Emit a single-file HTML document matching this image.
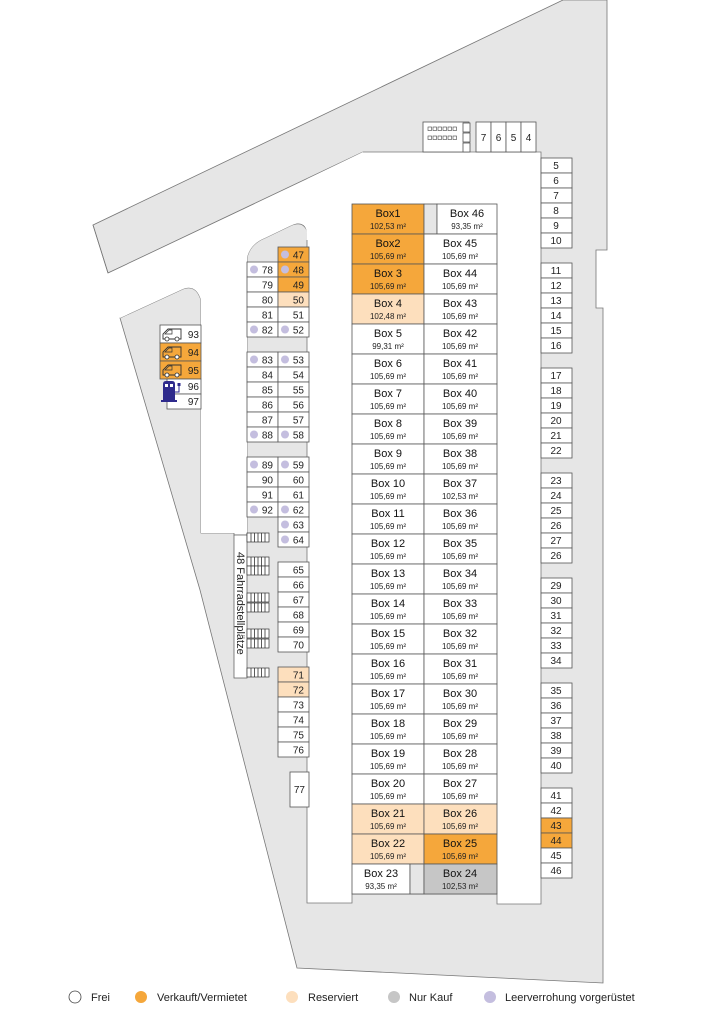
<!DOCTYPE html>
<html><head><meta charset="utf-8"><style>
html,body{margin:0;padding:0;background:#fff;}
svg{display:block;font-family:"Liberation Sans",Arial,sans-serif;}
.c{fill:#fff;stroke:#555;stroke-width:0.8}
.o{fill:#F5A73B;stroke:#555;stroke-width:0.8}
.r{fill:#FDDFBD;stroke:#555;stroke-width:0.8}
.g{fill:#C6C6C6;stroke:#555;stroke-width:0.8}
.n{font-size:10px;fill:#222;text-anchor:end}
.m{font-size:10px;fill:#222;text-anchor:middle}
.b{font-size:11px;fill:#111;text-anchor:middle}
.a{font-size:8px;fill:#222;text-anchor:middle}
.d{fill:#C4BEDF}
.lg{font-size:11px;fill:#222}
</style></head><body>
<svg width="724" height="1024" viewBox="0 0 724 1024" xmlns="http://www.w3.org/2000/svg">
<defs>
<g id="van"><path d="M2 13 L2 8 L7 3 L20 3 L20 13 Z" fill="none" stroke="#333" stroke-width="0.9"/><path d="M4 8 L8 4 L11 4 L11 8 Z" fill="none" stroke="#333" stroke-width="0.7"/><circle cx="6" cy="13" r="2" fill="#fff" stroke="#333" stroke-width="0.8"/><circle cx="16" cy="13" r="2" fill="#fff" stroke="#333" stroke-width="0.8"/></g>
<g id="rack"><rect x="0" y="0" width="22" height="9" fill="#fff" stroke="#333" stroke-width="0.7"/><path d="M4 0V9M7.5 0V9M11 0V9M14.5 0V9M18 0V9" stroke="#333" stroke-width="0.8"/></g>
</defs>
<!-- ground -->
<path d="M93 225 L563 0 L607 0 L607 250 L596 250 L596 308 L603 308 L603 983 L297 968 L200 590 L120 318 L183 289 Q196 284 201 300 L201 533 L234 533 L234 535 L247 535 L247 258 Q250 244 265 238 L290 226 Q307 218 309 240 L309 179 L108 273 Z" fill="#E6E6E6" stroke="#777" stroke-width="0.8"/>
<path d="M108 273 L307 179 L307 233 Q305 218 290 226 L265 238 Q250 244 247 258 L247 533 L201 533 L201 300 Q196 284 183 289 L120 318 Z" fill="#fff"/>
<path d="M108 273 L363 152" stroke="#777" stroke-width="0.8" fill="none"/>
<path d="M93 225 L108 273" stroke="#777" stroke-width="0.8"/>
<!-- building -->
<path d="M363 152 L541 152 L541 904 L497 904 L497 894 L352 894 L352 903 L307 903 L307 179 Z" fill="#fff"/>
<path d="M363 152 L541 152 L541 904 L497 904 L497 894 L352 894 L352 903 L307 903 L307 240" fill="none" stroke="#777" stroke-width="0.8"/>
<!-- top items -->
<rect x="423" y="122" width="46" height="30" class="c"/>
<rect x="463" y="123" width="7" height="9" class="c"/><rect x="463" y="133" width="7" height="9" class="c"/><rect x="463" y="143" width="7" height="9" class="c"/>
<g fill="none" stroke="#444" stroke-width="0.6">
<rect x="428" y="127" width="3.5" height="3.5"/><rect x="433" y="127" width="3.5" height="3.5"/><rect x="438" y="127" width="3.5" height="3.5"/><rect x="443" y="127" width="3.5" height="3.5"/><rect x="448" y="127" width="3.5" height="3.5"/><rect x="453" y="127" width="3.5" height="3.5"/>
<rect x="428" y="136" width="3.5" height="3.5"/><rect x="433" y="136" width="3.5" height="3.5"/><rect x="438" y="136" width="3.5" height="3.5"/><rect x="443" y="136" width="3.5" height="3.5"/><rect x="448" y="136" width="3.5" height="3.5"/><rect x="453" y="136" width="3.5" height="3.5"/>
</g>
<rect x="476" y="122" width="15" height="30" class="c"/><rect x="491" y="122" width="15" height="30" class="c"/><rect x="506" y="122" width="15" height="30" class="c"/><rect x="521" y="122" width="15" height="30" class="c"/>
<text x="483.5" y="141" class="m">7</text><text x="498.5" y="141" class="m">6</text><text x="513.5" y="141" class="m">5</text><text x="528.5" y="141" class="m">4</text>
<!-- right column -->
<g>
<rect x="541" y="158" width="31" height="15" class="c"/><rect x="541" y="173" width="31" height="15" class="c"/><rect x="541" y="188" width="31" height="15" class="c"/><rect x="541" y="203" width="31" height="15" class="c"/><rect x="541" y="218" width="31" height="15" class="c"/><rect x="541" y="233" width="31" height="15" class="c"/>
<rect x="541" y="263" width="31" height="15" class="c"/><rect x="541" y="278" width="31" height="15" class="c"/><rect x="541" y="293" width="31" height="15" class="c"/><rect x="541" y="308" width="31" height="15" class="c"/><rect x="541" y="323" width="31" height="15" class="c"/><rect x="541" y="338" width="31" height="15" class="c"/>
<rect x="541" y="368" width="31" height="15" class="c"/><rect x="541" y="383" width="31" height="15" class="c"/><rect x="541" y="398" width="31" height="15" class="c"/><rect x="541" y="413" width="31" height="15" class="c"/><rect x="541" y="428" width="31" height="15" class="c"/><rect x="541" y="443" width="31" height="15" class="c"/>
<rect x="541" y="473" width="31" height="15" class="c"/><rect x="541" y="488" width="31" height="15" class="c"/><rect x="541" y="503" width="31" height="15" class="c"/><rect x="541" y="518" width="31" height="15" class="c"/><rect x="541" y="533" width="31" height="15" class="c"/><rect x="541" y="548" width="31" height="15" class="c"/>
<rect x="541" y="578" width="31" height="15" class="c"/><rect x="541" y="593" width="31" height="15" class="c"/><rect x="541" y="608" width="31" height="15" class="c"/><rect x="541" y="623" width="31" height="15" class="c"/><rect x="541" y="638" width="31" height="15" class="c"/><rect x="541" y="653" width="31" height="15" class="c"/>
<rect x="541" y="683" width="31" height="15" class="c"/><rect x="541" y="698" width="31" height="15" class="c"/><rect x="541" y="713" width="31" height="15" class="c"/><rect x="541" y="728" width="31" height="15" class="c"/><rect x="541" y="743" width="31" height="15" class="c"/><rect x="541" y="758" width="31" height="15" class="c"/>
<rect x="541" y="788" width="31" height="15" class="c"/><rect x="541" y="803" width="31" height="15" class="c"/><rect x="541" y="818" width="31" height="15" class="o"/><rect x="541" y="833" width="31" height="15" class="o"/><rect x="541" y="848" width="31" height="15" class="c"/><rect x="541" y="863" width="31" height="15" class="c"/>
</g>
<g class="m">
<text x="556" y="169" class="m">5</text><text x="556" y="184" class="m">6</text><text x="556" y="199" class="m">7</text><text x="556" y="214" class="m">8</text><text x="556" y="229" class="m">9</text><text x="556" y="244" class="m">10</text>
<text x="556" y="274" class="m">11</text><text x="556" y="289" class="m">12</text><text x="556" y="304" class="m">13</text><text x="556" y="319" class="m">14</text><text x="556" y="334" class="m">15</text><text x="556" y="349" class="m">16</text>
<text x="556" y="379" class="m">17</text><text x="556" y="394" class="m">18</text><text x="556" y="409" class="m">19</text><text x="556" y="424" class="m">20</text><text x="556" y="439" class="m">21</text><text x="556" y="454" class="m">22</text>
<text x="556" y="484" class="m">23</text><text x="556" y="499" class="m">24</text><text x="556" y="514" class="m">25</text><text x="556" y="529" class="m">26</text><text x="556" y="544" class="m">27</text><text x="556" y="559" class="m">26</text>
<text x="556" y="589" class="m">29</text><text x="556" y="604" class="m">30</text><text x="556" y="619" class="m">31</text><text x="556" y="634" class="m">32</text><text x="556" y="649" class="m">33</text><text x="556" y="664" class="m">34</text>
<text x="556" y="694" class="m">35</text><text x="556" y="709" class="m">36</text><text x="556" y="724" class="m">37</text><text x="556" y="739" class="m">38</text><text x="556" y="754" class="m">39</text><text x="556" y="769" class="m">40</text>
<text x="556" y="799" class="m">41</text><text x="556" y="814" class="m">42</text><text x="556" y="829" class="m">43</text><text x="556" y="844" class="m">44</text><text x="556" y="859" class="m">45</text><text x="556" y="874" class="m">46</text>
</g>
<!-- central boxes -->
<g>
<rect x="352" y="204" width="72" height="30" class="o"/><rect x="424" y="204" width="13" height="30" fill="#E6E6E6" stroke="#555" stroke-width="0.8"/><rect x="437" y="204" width="60" height="30" class="c"/>
<rect x="352" y="234" width="72" height="30" class="o"/><rect x="424" y="234" width="73" height="30" class="c"/>
<rect x="352" y="264" width="72" height="30" class="o"/><rect x="424" y="264" width="73" height="30" class="c"/>
<rect x="352" y="294" width="72" height="30" class="r"/><rect x="424" y="294" width="73" height="30" class="c"/>
<rect x="352" y="324" width="72" height="30" class="c"/><rect x="424" y="324" width="73" height="30" class="c"/>
<rect x="352" y="354" width="72" height="30" class="c"/><rect x="424" y="354" width="73" height="30" class="c"/>
<rect x="352" y="384" width="72" height="30" class="c"/><rect x="424" y="384" width="73" height="30" class="c"/>
<rect x="352" y="414" width="72" height="30" class="c"/><rect x="424" y="414" width="73" height="30" class="c"/>
<rect x="352" y="444" width="72" height="30" class="c"/><rect x="424" y="444" width="73" height="30" class="c"/>
<rect x="352" y="474" width="72" height="30" class="c"/><rect x="424" y="474" width="73" height="30" class="c"/>
<rect x="352" y="504" width="72" height="30" class="c"/><rect x="424" y="504" width="73" height="30" class="c"/>
<rect x="352" y="534" width="72" height="30" class="c"/><rect x="424" y="534" width="73" height="30" class="c"/>
<rect x="352" y="564" width="72" height="30" class="c"/><rect x="424" y="564" width="73" height="30" class="c"/>
<rect x="352" y="594" width="72" height="30" class="c"/><rect x="424" y="594" width="73" height="30" class="c"/>
<rect x="352" y="624" width="72" height="30" class="c"/><rect x="424" y="624" width="73" height="30" class="c"/>
<rect x="352" y="654" width="72" height="30" class="c"/><rect x="424" y="654" width="73" height="30" class="c"/>
<rect x="352" y="684" width="72" height="30" class="c"/><rect x="424" y="684" width="73" height="30" class="c"/>
<rect x="352" y="714" width="72" height="30" class="c"/><rect x="424" y="714" width="73" height="30" class="c"/>
<rect x="352" y="744" width="72" height="30" class="c"/><rect x="424" y="744" width="73" height="30" class="c"/>
<rect x="352" y="774" width="72" height="30" class="c"/><rect x="424" y="774" width="73" height="30" class="c"/>
<rect x="352" y="804" width="72" height="30" class="r"/><rect x="424" y="804" width="73" height="30" class="r"/>
<rect x="352" y="834" width="72" height="30" class="r"/><rect x="424" y="834" width="73" height="30" class="o"/>
<rect x="352" y="864" width="58" height="30" class="c"/><rect x="410" y="864" width="14" height="30" fill="#E6E6E6" stroke="#555" stroke-width="0.8"/><rect x="424" y="864" width="73" height="30" class="g"/>
</g>
<g>
<text x="388" y="217" class="b">Box1</text><text x="388" y="229" class="a">102,53 m²</text><text x="467" y="217" class="b">Box 46</text><text x="467" y="229" class="a">93,35 m²</text>
<text x="388" y="247" class="b">Box2</text><text x="388" y="259" class="a">105,69 m²</text><text x="460" y="247" class="b">Box 45</text><text x="460" y="259" class="a">105,69 m²</text>
<text x="388" y="277" class="b">Box 3</text><text x="388" y="289" class="a">105,69 m²</text><text x="460" y="277" class="b">Box 44</text><text x="460" y="289" class="a">105,69 m²</text>
<text x="388" y="307" class="b">Box 4</text><text x="388" y="319" class="a">102,48 m²</text><text x="460" y="307" class="b">Box 43</text><text x="460" y="319" class="a">105,69 m²</text>
<text x="388" y="337" class="b">Box 5</text><text x="388" y="349" class="a">99,31 m²</text><text x="460" y="337" class="b">Box 42</text><text x="460" y="349" class="a">105,69 m²</text>
<text x="388" y="367" class="b">Box 6</text><text x="388" y="379" class="a">105,69 m²</text><text x="460" y="367" class="b">Box 41</text><text x="460" y="379" class="a">105,69 m²</text>
<text x="388" y="397" class="b">Box 7</text><text x="388" y="409" class="a">105,69 m²</text><text x="460" y="397" class="b">Box 40</text><text x="460" y="409" class="a">105,69 m²</text>
<text x="388" y="427" class="b">Box 8</text><text x="388" y="439" class="a">105,69 m²</text><text x="460" y="427" class="b">Box 39</text><text x="460" y="439" class="a">105,69 m²</text>
<text x="388" y="457" class="b">Box 9</text><text x="388" y="469" class="a">105,69 m²</text><text x="460" y="457" class="b">Box 38</text><text x="460" y="469" class="a">105,69 m²</text>
<text x="388" y="487" class="b">Box 10</text><text x="388" y="499" class="a">105,69 m²</text><text x="460" y="487" class="b">Box 37</text><text x="460" y="499" class="a">102,53 m²</text>
<text x="388" y="517" class="b">Box 11</text><text x="388" y="529" class="a">105,69 m²</text><text x="460" y="517" class="b">Box 36</text><text x="460" y="529" class="a">105,69 m²</text>
<text x="388" y="547" class="b">Box 12</text><text x="388" y="559" class="a">105,69 m²</text><text x="460" y="547" class="b">Box 35</text><text x="460" y="559" class="a">105,69 m²</text>
<text x="388" y="577" class="b">Box 13</text><text x="388" y="589" class="a">105,69 m²</text><text x="460" y="577" class="b">Box 34</text><text x="460" y="589" class="a">105,69 m²</text>
<text x="388" y="607" class="b">Box 14</text><text x="388" y="619" class="a">105,69 m²</text><text x="460" y="607" class="b">Box 33</text><text x="460" y="619" class="a">105,69 m²</text>
<text x="388" y="637" class="b">Box 15</text><text x="388" y="649" class="a">105,69 m²</text><text x="460" y="637" class="b">Box 32</text><text x="460" y="649" class="a">105,69 m²</text>
<text x="388" y="667" class="b">Box 16</text><text x="388" y="679" class="a">105,69 m²</text><text x="460" y="667" class="b">Box 31</text><text x="460" y="679" class="a">105,69 m²</text>
<text x="388" y="697" class="b">Box 17</text><text x="388" y="709" class="a">105,69 m²</text><text x="460" y="697" class="b">Box 30</text><text x="460" y="709" class="a">105,69 m²</text>
<text x="388" y="727" class="b">Box 18</text><text x="388" y="739" class="a">105,69 m²</text><text x="460" y="727" class="b">Box 29</text><text x="460" y="739" class="a">105,69 m²</text>
<text x="388" y="757" class="b">Box 19</text><text x="388" y="769" class="a">105,69 m²</text><text x="460" y="757" class="b">Box 28</text><text x="460" y="769" class="a">105,69 m²</text>
<text x="388" y="787" class="b">Box 20</text><text x="388" y="799" class="a">105,69 m²</text><text x="460" y="787" class="b">Box 27</text><text x="460" y="799" class="a">105,69 m²</text>
<text x="388" y="817" class="b">Box 21</text><text x="388" y="829" class="a">105,69 m²</text><text x="460" y="817" class="b">Box 26</text><text x="460" y="829" class="a">105,69 m²</text>
<text x="388" y="847" class="b">Box 22</text><text x="388" y="859" class="a">105,69 m²</text><text x="460" y="847" class="b">Box 25</text><text x="460" y="859" class="a">105,69 m²</text>
<text x="381" y="877" class="b">Box 23</text><text x="381" y="889" class="a">93,35 m²</text><text x="460" y="877" class="b">Box 24</text><text x="460" y="889" class="a">102,53 m²</text>
</g>
<!-- parking column block 2 -->
<g>
<rect x="278" y="247" width="31" height="15" class="o"/>
<rect x="247" y="262" width="31" height="15" class="c"/><rect x="278" y="262" width="31" height="15" class="o"/>
<rect x="247" y="277" width="31" height="15" class="c"/><rect x="278" y="277" width="31" height="15" class="o"/>
<rect x="247" y="292" width="31" height="15" class="c"/><rect x="278" y="292" width="31" height="15" class="r"/>
<rect x="247" y="307" width="31" height="15" class="c"/><rect x="278" y="307" width="31" height="15" class="c"/>
<rect x="247" y="322" width="31" height="15" class="c"/><rect x="278" y="322" width="31" height="15" class="c"/>
<rect x="247" y="352" width="31" height="15" class="c"/><rect x="278" y="352" width="31" height="15" class="c"/>
<rect x="247" y="367" width="31" height="15" class="c"/><rect x="278" y="367" width="31" height="15" class="c"/>
<rect x="247" y="382" width="31" height="15" class="c"/><rect x="278" y="382" width="31" height="15" class="c"/>
<rect x="247" y="397" width="31" height="15" class="c"/><rect x="278" y="397" width="31" height="15" class="c"/>
<rect x="247" y="412" width="31" height="15" class="c"/><rect x="278" y="412" width="31" height="15" class="c"/>
<rect x="247" y="427" width="31" height="15" class="c"/><rect x="278" y="427" width="31" height="15" class="c"/>
<rect x="247" y="457" width="31" height="15" class="c"/><rect x="278" y="457" width="31" height="15" class="c"/>
<rect x="247" y="472" width="31" height="15" class="c"/><rect x="278" y="472" width="31" height="15" class="c"/>
<rect x="247" y="487" width="31" height="15" class="c"/><rect x="278" y="487" width="31" height="15" class="c"/>
<rect x="247" y="502" width="31" height="15" class="c"/><rect x="278" y="502" width="31" height="15" class="c"/>
<rect x="278" y="517" width="31" height="15" class="c"/><rect x="278" y="532" width="31" height="15" class="c"/>
<rect x="278" y="562" width="31" height="15" class="c"/><rect x="278" y="577" width="31" height="15" class="c"/><rect x="278" y="592" width="31" height="15" class="c"/><rect x="278" y="607" width="31" height="15" class="c"/><rect x="278" y="622" width="31" height="15" class="c"/><rect x="278" y="637" width="31" height="15" class="c"/>
<rect x="278" y="667" width="31" height="15" class="r"/><rect x="278" y="682" width="31" height="15" class="r"/><rect x="278" y="697" width="31" height="15" class="c"/><rect x="278" y="712" width="31" height="15" class="c"/><rect x="278" y="727" width="31" height="15" class="c"/><rect x="278" y="742" width="31" height="15" class="c"/>
<rect x="290" y="772" width="19" height="35" class="c"/>
</g>
<g>
<circle cx="285" cy="254.5" r="4" class="d"/><circle cx="254" cy="269.5" r="4" class="d"/><circle cx="285" cy="269.5" r="4" class="d"/>
<circle cx="254" cy="329.5" r="4" class="d"/><circle cx="285" cy="329.5" r="4" class="d"/>
<circle cx="254" cy="359.5" r="4" class="d"/><circle cx="285" cy="359.5" r="4" class="d"/>
<circle cx="254" cy="434.5" r="4" class="d"/><circle cx="285" cy="434.5" r="4" class="d"/>
<circle cx="254" cy="464.5" r="4" class="d"/><circle cx="285" cy="464.5" r="4" class="d"/>
<circle cx="254" cy="509.5" r="4" class="d"/><circle cx="285" cy="509.5" r="4" class="d"/>
<circle cx="285" cy="524.5" r="4" class="d"/><circle cx="285" cy="539.5" r="4" class="d"/>
</g>
<g class="n">
<text x="304" y="258.5" class="n">47</text>
<text x="273" y="273.5" class="n">78</text><text x="304" y="273.5" class="n">48</text>
<text x="273" y="288.5" class="n">79</text><text x="304" y="288.5" class="n">49</text>
<text x="273" y="303.5" class="n">80</text><text x="304" y="303.5" class="n">50</text>
<text x="273" y="318.5" class="n">81</text><text x="304" y="318.5" class="n">51</text>
<text x="273" y="333.5" class="n">82</text><text x="304" y="333.5" class="n">52</text>
<text x="273" y="363.5" class="n">83</text><text x="304" y="363.5" class="n">53</text>
<text x="273" y="378.5" class="n">84</text><text x="304" y="378.5" class="n">54</text>
<text x="273" y="393.5" class="n">85</text><text x="304" y="393.5" class="n">55</text>
<text x="273" y="408.5" class="n">86</text><text x="304" y="408.5" class="n">56</text>
<text x="273" y="423.5" class="n">87</text><text x="304" y="423.5" class="n">57</text>
<text x="273" y="438.5" class="n">88</text><text x="304" y="438.5" class="n">58</text>
<text x="273" y="468.5" class="n">89</text><text x="304" y="468.5" class="n">59</text>
<text x="273" y="483.5" class="n">90</text><text x="304" y="483.5" class="n">60</text>
<text x="273" y="498.5" class="n">91</text><text x="304" y="498.5" class="n">61</text>
<text x="273" y="513.5" class="n">92</text><text x="304" y="513.5" class="n">62</text>
<text x="304" y="528.5" class="n">63</text><text x="304" y="543.5" class="n">64</text>
<text x="304" y="573.5" class="n">65</text><text x="304" y="588.5" class="n">66</text><text x="304" y="603.5" class="n">67</text><text x="304" y="618.5" class="n">68</text><text x="304" y="633.5" class="n">69</text><text x="304" y="648.5" class="n">70</text>
<text x="304" y="678.5" class="n">71</text><text x="304" y="693.5" class="n">72</text><text x="304" y="708.5" class="n">73</text><text x="304" y="723.5" class="n">74</text><text x="304" y="738.5" class="n">75</text><text x="304" y="753.5" class="n">76</text>
<text x="305" y="793" class="n">77</text>
</g>
<!-- bikes -->
<rect x="234" y="535" width="13" height="143" fill="#fff" stroke="#666" stroke-width="0.8"/>
<text transform="translate(237,552) rotate(90)" font-size="11" fill="#222">48 Fahrradstellplätze</text>
<use href="#rack" x="247" y="533"/>
<use href="#rack" x="247" y="557"/><use href="#rack" x="247" y="566"/>
<use href="#rack" x="247" y="593"/><use href="#rack" x="247" y="603"/>
<use href="#rack" x="247" y="629"/><use href="#rack" x="247" y="639"/>
<use href="#rack" x="247" y="668"/>
<!-- block 1 -->
<rect x="160" y="325" width="41" height="18" class="c"/>
<rect x="160" y="343" width="41" height="18" class="o"/>
<rect x="160" y="361" width="41" height="18" class="o"/>
<rect x="167" y="379" width="34" height="15" class="c"/>
<rect x="167" y="394" width="34" height="15" class="c"/>
<use href="#van" x="161" y="326"/><use href="#van" x="161" y="344"/><use href="#van" x="161" y="362"/>
<text x="199" y="338" class="n">93</text><text x="199" y="356" class="n">94</text><text x="199" y="374" class="n">95</text>
<text x="199" y="390" class="n">96</text><text x="199" y="405" class="n">97</text>
<g fill="#2E2A8C">
<path d="M163 384 Q163 381 166 381 L172 381 Q175 381 175 384 L175 400 L163 400 Z"/>
<rect x="161" y="400" width="16" height="2"/>
<path d="M175 392 L179 392 L179 386" fill="none" stroke="#2E2A8C" stroke-width="1"/>
<rect x="177.5" y="383" width="3" height="3"/>
</g>
<rect x="165" y="384" width="3" height="3" fill="#fff"/><rect x="170" y="384" width="3" height="3" fill="#fff"/>
<!-- legend -->
<circle cx="75" cy="997" r="6" fill="#fff" stroke="#444" stroke-width="0.8"/><text x="91" y="1001" class="lg">Frei</text>
<circle cx="141" cy="997" r="6" fill="#F5A73B"/><text x="157" y="1001" class="lg">Verkauft/Vermietet</text>
<circle cx="292" cy="997" r="6" fill="#FDDFBD"/><text x="308" y="1001" class="lg">Reserviert</text>
<circle cx="394" cy="997" r="6" fill="#C6C6C6"/><text x="409" y="1001" class="lg">Nur Kauf</text>
<circle cx="490" cy="997" r="6" fill="#C4BEDF"/><text x="505" y="1001" class="lg">Leerverrohung vorgerüstet</text>
</svg>
</body></html>
